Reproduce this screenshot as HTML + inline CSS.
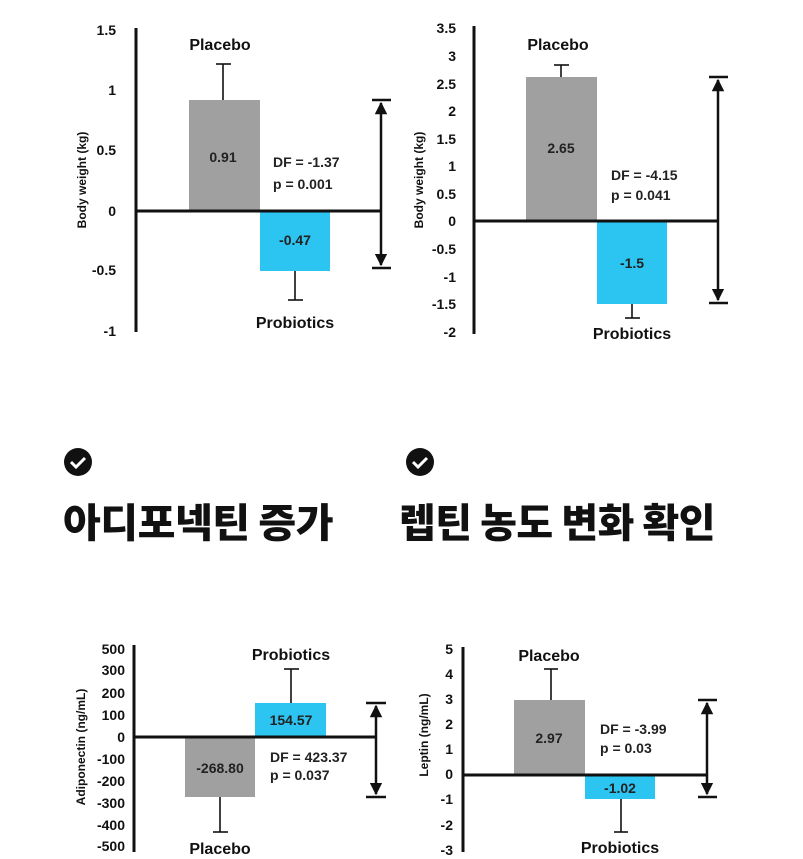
<!DOCTYPE html>
<html><head><meta charset="utf-8"><style>
html,body{margin:0;padding:0;background:#fff;width:803px;height:859px;overflow:hidden}
svg{display:block}
text{font-family:"Liberation Sans","Noto Sans CJK KR",sans-serif;fill:#111}
.t{font-size:14px;font-weight:bold;text-anchor:end}
.l{font-size:16px;font-weight:bold;text-anchor:middle}
.v{font-size:14px;font-weight:bold;text-anchor:middle;fill:#222}
.d{font-size:14px;font-weight:bold;fill:#222}
.y{font-size:12px;font-weight:bold;text-anchor:middle}
.k{font-size:40px;font-weight:900;font-family:"Noto Sans CJK KR","NanumGothic",sans-serif;letter-spacing:-0.5px}
</style></head><body>
<svg width="803" height="859" viewBox="0 0 803 859">
<defs>
<marker id="ah" viewBox="0 0 10 10" refX="9" refY="5" markerWidth="5" markerHeight="5" orient="auto-start-reverse"><path d="M0,0L10,5L0,10z" fill="#111"/></marker>
</defs>
<line x1="136" y1="28" x2="136" y2="332" stroke="#111" stroke-width="3"/>
<rect x="189" y="100" width="71" height="111" fill="#a0a0a0"/>
<rect x="260" y="211" width="70" height="60" fill="#2cc4f0"/>
<g stroke="#111" fill="none" stroke-width="1.6">
<line x1="223" y1="100" x2="223" y2="64"/><line x1="216" y1="64" x2="231" y2="64"/>
<line x1="295" y1="271" x2="295" y2="300"/><line x1="288" y1="300" x2="303" y2="300"/>
<line x1="136" y1="211" x2="382" y2="211" stroke-width="3"/>
<line x1="372" y1="100" x2="391" y2="100" stroke-width="2.5"/><line x1="372" y1="268" x2="391" y2="268" stroke-width="2.5"/>
<line x1="381" y1="103" x2="381" y2="265" stroke-width="2.5" marker-start="url(#ah)" marker-end="url(#ah)"/>
</g>
<g class="t"><text x="116" y="35">1.5</text><text x="116" y="95">1</text><text x="116" y="155">0.5</text><text x="116" y="216">0</text><text x="116" y="275">-0.5</text><text x="116" y="336">-1</text></g>
<text class="y" transform="translate(86,180) rotate(-90)">Body weight (kg)</text>
<text class="l" x="220" y="50">Placebo</text><text class="l" x="295" y="328">Probiotics</text>
<text class="v" x="223" y="162">0.91</text><text class="v" x="295" y="245">-0.47</text>
<text class="d" x="273" y="167">DF = -1.37</text><text class="d" x="273" y="189">p = 0.001</text>

<line x1="474" y1="26" x2="474" y2="334" stroke="#111" stroke-width="3"/>
<rect x="526" y="77" width="71" height="144" fill="#a0a0a0"/>
<rect x="597" y="221" width="70" height="83" fill="#2cc4f0"/>
<g stroke="#111" fill="none" stroke-width="1.6">
<line x1="561" y1="77" x2="561" y2="65"/><line x1="554" y1="65" x2="569" y2="65"/>
<line x1="632" y1="304" x2="632" y2="318"/><line x1="625" y1="318" x2="640" y2="318"/>
<line x1="474" y1="221" x2="719" y2="221" stroke-width="3"/>
<line x1="709" y1="77" x2="728" y2="77" stroke-width="2.5"/><line x1="709" y1="303" x2="728" y2="303" stroke-width="2.5"/>
<line x1="718" y1="80" x2="718" y2="300" stroke-width="2.5" marker-start="url(#ah)" marker-end="url(#ah)"/>
</g>
<g class="t"><text x="456" y="33">3.5</text><text x="456" y="61">3</text><text x="456" y="89">2.5</text><text x="456" y="116">2</text><text x="456" y="144">1.5</text><text x="456" y="171">1</text><text x="456" y="199">0.5</text><text x="456" y="226">0</text><text x="456" y="254">-0.5</text><text x="456" y="282">-1</text><text x="456" y="309">-1.5</text><text x="456" y="337">-2</text></g>
<text class="y" transform="translate(423,180) rotate(-90)">Body weight (kg)</text>
<text class="l" x="558" y="50">Placebo</text><text class="l" x="632" y="339">Probiotics</text>
<text class="v" x="561" y="153">2.65</text><text class="v" x="632" y="268">-1.5</text>
<text class="d" x="611" y="180">DF = -4.15</text><text class="d" x="611" y="200">p = 0.041</text>

<circle cx="78" cy="462" r="14" fill="#111"/><path d="M71,462l5,5l9,-9" stroke="#fff" stroke-width="3" fill="none"/>
<circle cx="420" cy="462" r="14" fill="#111"/><path d="M413,462l5,5l9,-9" stroke="#fff" stroke-width="3" fill="none"/>
<text class="k" x="63" y="537" textLength="270" lengthAdjust="spacingAndGlyphs">아디포넥틴 증가</text>
<text class="k" x="399" y="537" textLength="316" lengthAdjust="spacingAndGlyphs">렙틴 농도 변화 확인</text>

<line x1="134" y1="645" x2="134" y2="852" stroke="#111" stroke-width="3"/>
<rect x="185" y="737" width="70" height="60" fill="#a0a0a0"/>
<rect x="255" y="703" width="71" height="34" fill="#2cc4f0"/>
<g stroke="#111" fill="none" stroke-width="1.6">
<line x1="220" y1="797" x2="220" y2="832"/><line x1="213" y1="832" x2="228" y2="832"/>
<line x1="291" y1="703" x2="291" y2="669"/><line x1="284" y1="669" x2="299" y2="669"/>
<line x1="134" y1="737" x2="377" y2="737" stroke-width="3"/>
<line x1="366" y1="703" x2="386" y2="703" stroke-width="2.5"/><line x1="366" y1="797" x2="386" y2="797" stroke-width="2.5"/>
<line x1="376" y1="706" x2="376" y2="794" stroke-width="2.5" marker-start="url(#ah)" marker-end="url(#ah)"/>
</g>
<g class="t"><text x="125" y="654">500</text><text x="125" y="675">300</text><text x="125" y="698">200</text><text x="125" y="720">100</text><text x="125" y="742">0</text><text x="125" y="764">-100</text><text x="125" y="786">-200</text><text x="125" y="808">-300</text><text x="125" y="830">-400</text><text x="125" y="851">-500</text></g>
<text class="y" transform="translate(85,747) rotate(-90)">Adiponectin (ng/mL)</text>
<text class="l" x="291" y="660">Probiotics</text><text class="l" x="220" y="854">Placebo</text>
<text class="v" x="220" y="773">-268.80</text><text class="v" x="291" y="725">154.57</text>
<text class="d" x="270" y="762">DF = 423.37</text><text class="d" x="270" y="780">p = 0.037</text>

<line x1="463" y1="647" x2="463" y2="852" stroke="#111" stroke-width="3"/>
<rect x="514" y="700" width="71" height="75" fill="#a0a0a0"/>
<rect x="585" y="775" width="70" height="24" fill="#2cc4f0"/>
<g stroke="#111" fill="none" stroke-width="1.6">
<line x1="551" y1="700" x2="551" y2="669"/><line x1="544" y1="669" x2="558" y2="669"/>
<line x1="621" y1="799" x2="621" y2="832"/><line x1="614" y1="832" x2="628" y2="832"/>
<line x1="463" y1="775" x2="708" y2="775" stroke-width="3"/>
<line x1="698" y1="700" x2="717" y2="700" stroke-width="2.5"/><line x1="698" y1="797" x2="717" y2="797" stroke-width="2.5"/>
<line x1="707" y1="703" x2="707" y2="794" stroke-width="2.5" marker-start="url(#ah)" marker-end="url(#ah)"/>
</g>
<g class="t"><text x="453" y="654">5</text><text x="453" y="679">4</text><text x="453" y="704">3</text><text x="453" y="729">2</text><text x="453" y="754">1</text><text x="453" y="779">0</text><text x="453" y="804">-1</text><text x="453" y="830">-2</text><text x="453" y="855">-3</text></g>
<text class="y" transform="translate(428,735) rotate(-90)">Leptin (ng/mL)</text>
<text class="l" x="549" y="661">Placebo</text><text class="l" x="620" y="853">Probiotics</text>
<text class="v" x="549" y="743">2.97</text><text class="v" x="620" y="793">-1.02</text>
<text class="d" x="600" y="734">DF = -3.99</text><text class="d" x="600" y="753">p = 0.03</text>
</svg>
</body></html>
